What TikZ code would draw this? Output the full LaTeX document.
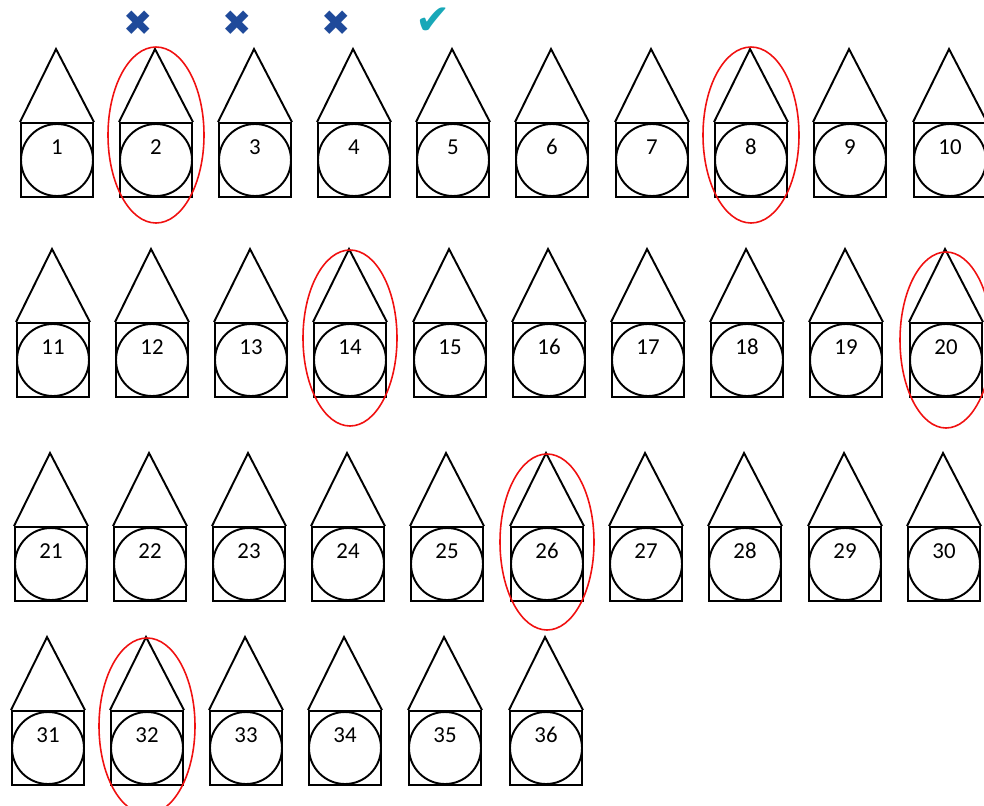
\documentclass[tikz,border=0pt]{standalone}
\usepackage{fontspec}
\setmainfont{Carlito}
\newfontfamily\markfont{DejaVu Sans}
\definecolor{markno}{HTML}{1F4A9A}
\definecolor{markyes}{HTML}{18A8B8}
\definecolor{pickred}{HTML}{F01010}
\tikzset{
  cell/.style={draw,line width=1.1pt,rectangle,minimum width=1.44cm,minimum height=1.48cm,
    inner sep=0pt,text height=.3cm,text depth=.54cm,font=\fontsize{13}{15}\selectfont},
  roof/.style={line width=1.1pt,line join=miter},
  pick/.style={pickred,line width=.9pt},
  nomark/.style={text=markno,font=\markfont\fontsize{20}{22}\selectfont},
  yesmark/.style={text=markyes,font=\markfont\fontsize{24}{26}\selectfont}
}

\begin{document}
\begin{tikzpicture}[x=0.02cm,y=0.02cm]
\useasboundingbox (0,0) rectangle (984,-805);
% marks above the first row
\node[nomark] (no2) at (138,-23) {✖};
\node[nomark] (no3) at (237,-23) {✖};
\node[nomark] (no4) at (336,-23) {✖};
\node[yesmark] (yes5) at (433,-21) {✔};
% row 1
\node[cell] (n1) at (57,-160) {1};
\draw[roof] (n1.north west) -- ++(36,73) -- (n1.north east) (n1) circle (36);
\node[cell] (n2) at (156,-160) {2};
\draw[roof] (n2.north west) -- ++(36,73) -- (n2.north east) (n2) circle (36);
\node[cell] (n3) at (255,-160) {3};
\draw[roof] (n3.north west) -- ++(36,73) -- (n3.north east) (n3) circle (36);
\node[cell] (n4) at (354,-160) {4};
\draw[roof] (n4.north west) -- ++(36,73) -- (n4.north east) (n4) circle (36);
\node[cell] (n5) at (453,-160) {5};
\draw[roof] (n5.north west) -- ++(36,73) -- (n5.north east) (n5) circle (36);
\node[cell] (n6) at (552,-160) {6};
\draw[roof] (n6.north west) -- ++(36,73) -- (n6.north east) (n6) circle (36);
\node[cell] (n7) at (652,-160) {7};
\draw[roof] (n7.north west) -- ++(36,73) -- (n7.north east) (n7) circle (36);
\node[cell] (n8) at (751,-160) {8};
\draw[roof] (n8.north west) -- ++(36,73) -- (n8.north east) (n8) circle (36);
\node[cell] (n9) at (850,-160) {9};
\draw[roof] (n9.north west) -- ++(36,73) -- (n9.north east) (n9) circle (36);
\node[cell] (n10) at (950,-160) {10};
\draw[roof] (n10.north west) -- ++(36,73) -- (n10.north east) (n10) circle (36);
% row 2
\node[cell] (n11) at (53,-360) {11};
\draw[roof] (n11.north west) -- ++(36,73) -- (n11.north east) (n11) circle (36);
\node[cell] (n12) at (152,-360) {12};
\draw[roof] (n12.north west) -- ++(36,73) -- (n12.north east) (n12) circle (36);
\node[cell] (n13) at (251,-360) {13};
\draw[roof] (n13.north west) -- ++(36,73) -- (n13.north east) (n13) circle (36);
\node[cell] (n14) at (350,-360) {14};
\draw[roof] (n14.north west) -- ++(36,73) -- (n14.north east) (n14) circle (36);
\node[cell] (n15) at (450,-360) {15};
\draw[roof] (n15.north west) -- ++(36,73) -- (n15.north east) (n15) circle (36);
\node[cell] (n16) at (549,-360) {16};
\draw[roof] (n16.north west) -- ++(36,73) -- (n16.north east) (n16) circle (36);
\node[cell] (n17) at (648,-360) {17};
\draw[roof] (n17.north west) -- ++(36,73) -- (n17.north east) (n17) circle (36);
\node[cell] (n18) at (747,-360) {18};
\draw[roof] (n18.north west) -- ++(36,73) -- (n18.north east) (n18) circle (36);
\node[cell] (n19) at (846,-360) {19};
\draw[roof] (n19.north west) -- ++(36,73) -- (n19.north east) (n19) circle (36);
\node[cell] (n20) at (946,-360) {20};
\draw[roof] (n20.north west) -- ++(36,73) -- (n20.north east) (n20) circle (36);
% row 3
\node[cell] (n21) at (51,-564) {21};
\draw[roof] (n21.north west) -- ++(36,73) -- (n21.north east) (n21) circle (36);
\node[cell] (n22) at (150,-564) {22};
\draw[roof] (n22.north west) -- ++(36,73) -- (n22.north east) (n22) circle (36);
\node[cell] (n23) at (249,-564) {23};
\draw[roof] (n23.north west) -- ++(36,73) -- (n23.north east) (n23) circle (36);
\node[cell] (n24) at (348,-564) {24};
\draw[roof] (n24.north west) -- ++(36,73) -- (n24.north east) (n24) circle (36);
\node[cell] (n25) at (447,-564) {25};
\draw[roof] (n25.north west) -- ++(36,73) -- (n25.north east) (n25) circle (36);
\node[cell] (n26) at (547,-564) {26};
\draw[roof] (n26.north west) -- ++(36,73) -- (n26.north east) (n26) circle (36);
\node[cell] (n27) at (646,-564) {27};
\draw[roof] (n27.north west) -- ++(36,73) -- (n27.north east) (n27) circle (36);
\node[cell] (n28) at (745,-564) {28};
\draw[roof] (n28.north west) -- ++(36,73) -- (n28.north east) (n28) circle (36);
\node[cell] (n29) at (845,-564) {29};
\draw[roof] (n29.north west) -- ++(36,73) -- (n29.north east) (n29) circle (36);
\node[cell] (n30) at (944,-564) {30};
\draw[roof] (n30.north west) -- ++(36,73) -- (n30.north east) (n30) circle (36);
% row 4
\node[cell] (n31) at (48,-748) {31};
\draw[roof] (n31.north west) -- ++(36,73) -- (n31.north east) (n31) circle (36);
\node[cell] (n32) at (147,-748) {32};
\draw[roof] (n32.north west) -- ++(36,73) -- (n32.north east) (n32) circle (36);
\node[cell] (n33) at (246,-748) {33};
\draw[roof] (n33.north west) -- ++(36,73) -- (n33.north east) (n33) circle (36);
\node[cell] (n34) at (345,-748) {34};
\draw[roof] (n34.north west) -- ++(36,73) -- (n34.north east) (n34) circle (36);
\node[cell] (n35) at (445,-748) {35};
\draw[roof] (n35.north west) -- ++(36,73) -- (n35.north east) (n35) circle (36);
\node[cell] (n36) at (546,-748) {36};
\draw[roof] (n36.north west) -- ++(36,73) -- (n36.north east) (n36) circle (36);
% picked ones
\draw[pick] (n2) ++(0,25) ellipse (48 and 88);
\draw[pick] (n8) ++(0,25) ellipse (48 and 88);
\draw[pick] (n14) ++(0,22) ellipse (47 and 88);
\draw[pick] (n20) ++(0,20) ellipse (46 and 88);
\draw[pick] (n26) ++(0,22) ellipse (47 and 88);
\draw[pick] (n32) ++(0,22) ellipse (48 and 88);
\end{tikzpicture}
\end{document}
